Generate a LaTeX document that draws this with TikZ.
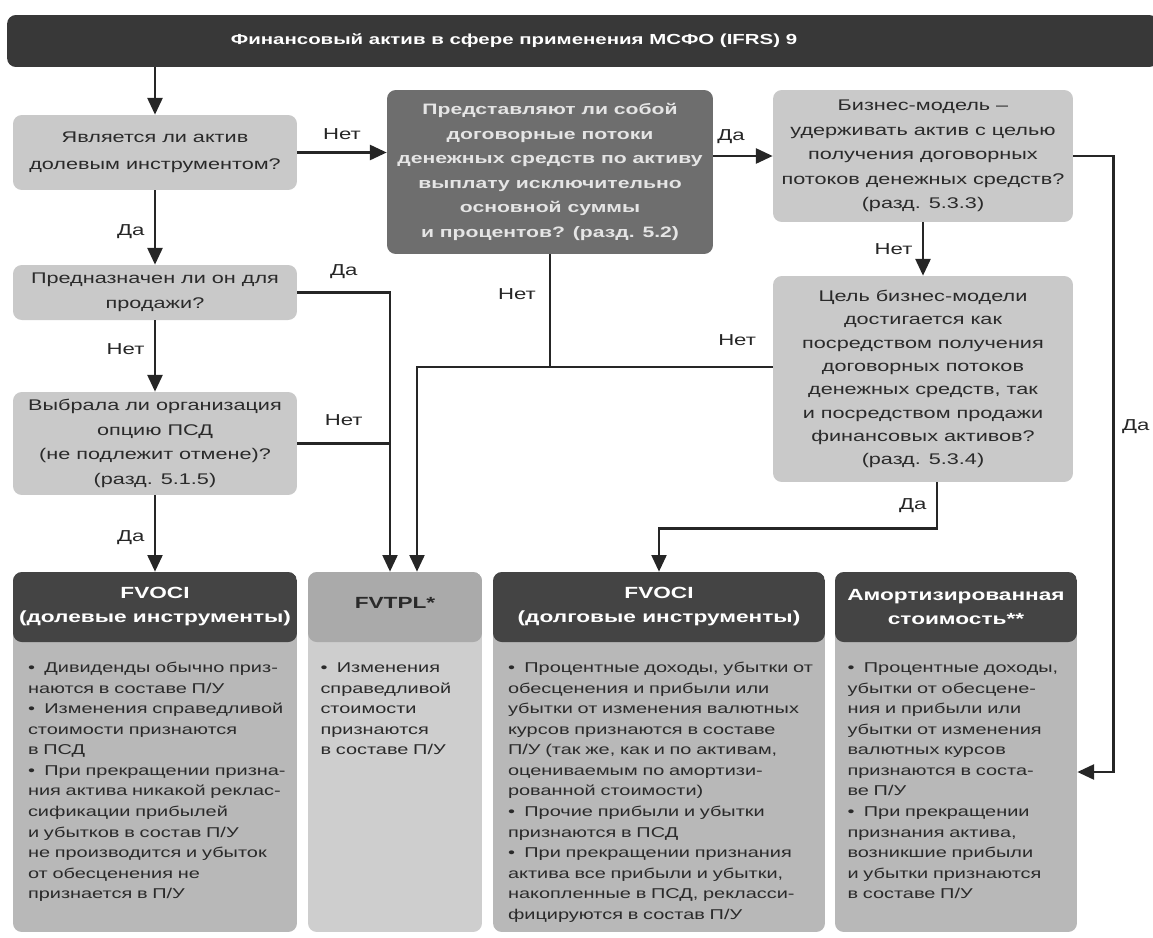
\documentclass[tikz,border=0pt]{standalone}
\usepackage{fontspec}
\setmainfont{Liberation Sans}[FakeStretch=1.4]
\definecolor{bardark}{RGB}{56,56,56}
\definecolor{qlight}{RGB}{201,201,201}
\definecolor{qdark}{RGB}{110,110,110}
\definecolor{hdrdark}{RGB}{68,68,68}
\definecolor{hdrlight}{RGB}{170,170,170}
\definecolor{bodygray}{RGB}{184,184,184}
\definecolor{bodylight}{RGB}{206,206,206}
\definecolor{inkgray}{RGB}{42,42,42}
\usetikzlibrary{arrows.meta,positioning}

% bullet with hanging indent
\newcommand{\bul}{\par\noindent\hangindent=1.15em\hangafter=1\makebox[1.15em][l]{\textbullet}}

\begin{document}
\begin{tikzpicture}[x=0.02cm, y=-0.02cm,
  qbox/.style={fill=qlight, rounded corners=5pt, text=inkgray, align=center,
    font=\fontsize{8.8}{14}\selectfont, inner sep=0pt},
  qdbox/.style={qbox, fill=qdark, text=white!90!black,
    font=\bfseries\fontsize{8.6}{14}\selectfont},
  card/.style args={#1/#2}{rounded corners=5pt, minimum height=7.2cm, inner sep=0pt, fill=#2,
    path picture={\fill[#1] (path picture bounding box.north west)
      rectangle ([yshift=-1.4cm]path picture bounding box.north east);}},
  hdrtxt/.style={text=white, align=center, font=\bfseries\fontsize{9.2}{13.5}\selectfont},
  bodytxt/.style={text=inkgray, align=left, anchor=north west, inner sep=0pt,
    font=\fontsize{8.1}{11.7}\selectfont},
  ln/.style={line width=1.4pt, draw=black!85},
  arr/.style={ln, -{Triangle[width=8.5pt,length=9.5pt]}},
  lbl/.style={text=black!85, font=\fontsize{9}{11}\selectfont}]
  \useasboundingbox (0,0) rectangle (1153,937);

  % top bar
  \node[fill=bardark, rounded corners=5pt, minimum width=23.02cm, minimum height=1.04cm] (ifrsBar) at (582.5,41) {};
  \node[text=white, font=\bfseries\fontsize{8.3}{12}\selectfont] (ifrsTitle) at (514,41) {Финансовый актив в сфере применения МСФО (IFRS) 9};

  % questions
  \node[qbox, minimum width=5.68cm, minimum height=1.5cm, font=\fontsize{8.8}{15.5}\selectfont] (isEquity) at (155,152.5)
    {Является ли актив\\долевым инструментом?};
  \node[qdbox, minimum width=6.52cm, minimum height=3.28cm] (isSPPI) at (550,172)
    {Представляют ли собой\\договорные потоки\\денежных средств по активу\\выплату исключительно\\основной суммы\\и процентов? (разд. 5.2)};
  \node[qbox, minimum width=6cm, minimum height=2.64cm] (holdModel) at (923,156)
    {Бизнес-модель –\\удерживать актив с целью\\получения договорных\\потоков денежных средств?\\(разд. 5.3.3)};
  \node[qbox, minimum width=5.68cm, minimum height=1.1cm] (forTrading) at (155,292.5)
    {Предназначен ли он для\\продажи?};
  \node[qbox, minimum width=5.68cm, minimum height=2.06cm] (ociOption) at (155,443.5)
    {Выбрала ли организация\\опцию ПСД\\(не подлежит отмене)?\\(разд. 5.1.5)};
  \node[qbox, minimum width=6cm, minimum height=4.12cm, font=\fontsize{8.8}{13.3}\selectfont] (bothModel) at (923,379)
    {Цель бизнес-модели\\достигается как\\посредством получения\\договорных потоков\\денежных средств, так\\и посредством продажи\\финансовых активов?\\(разд. 5.3.4)};

  % categories
  \node[card=hdrdark/bodygray, minimum width=5.68cm] (fvociEq) at (155,752) {};
  \node[card=hdrlight/bodylight, minimum width=3.48cm] (fvtpl) at (395,752) {};
  \node[card=hdrdark/bodygray, minimum width=6.64cm] (fvociDebt) at (659,752) {};
  \node[card=hdrdark/bodygray, minimum width=4.84cm] (amortCost) at (956,752) {};

  \node[hdrtxt] (fvociEqH) at ([yshift=-0.7cm]fvociEq.north) {FVOCI\\(долевые инструменты)};
  \node[hdrtxt, text=inkgray] (fvtplH) at ([yshift=-0.62cm]fvtpl.north) {FVTPL*};
  \node[hdrtxt] (fvociDebtH) at ([yshift=-0.7cm]fvociDebt.north) {FVOCI\\(долговые инструменты)};
  \node[hdrtxt] (amortCostH) at ([yshift=-0.7cm]amortCost.north) {Амортизированная\\стоимость**};

  \node[bodytxt, text width=5.4cm] (fvociEqB) at ([xshift=0.3cm,yshift=-1.6cm]fvociEq.north west)
    {\bul Дивиденды обычно приз-\\наются в составе П/У
     \bul Изменения справедливой\\стоимости признаются\\в ПСД
     \bul При прекращении призна-\\ния актива никакой реклас-\\сификации прибылей\\и убытков в состав П/У\\не производится и убыток\\от обесценения не\\признается в П/У};
  \node[bodytxt, text width=3.2cm] (fvtplB) at ([xshift=0.25cm,yshift=-1.6cm]fvtpl.north west)
    {\bul Изменения\\справедливой\\стоимости\\признаются\\в составе П/У};
  \node[bodytxt, text width=6.3cm] (fvociDebtB) at ([xshift=0.3cm,yshift=-1.6cm]fvociDebt.north west)
    {\bul Процентные доходы, убытки от\\обесценения и прибыли или\\убытки от изменения валютных\\курсов признаются в составе\\П/У (так же, как и по активам,\\оцениваемым по амортизи-\\рованной стоимости)
     \bul Прочие прибыли и убытки\\признаются в ПСД
     \bul При прекращении признания\\актива все прибыли и убытки,\\накопленные в ПСД, реклас\-си-\\фицируются в состав П/У};
  \node[bodytxt, text width=4.5cm] (amortCostB) at ([xshift=0.25cm,yshift=-1.6cm]amortCost.north west)
    {\bul Процентные доходы,\\убытки от обесцене-\\ния и прибыли или\\убытки от изменения\\валютных курсов\\признаются в соста-\\ве П/У
     \bul При прекращении\\признания актива,\\возникшие прибыли\\и убытки признаются\\в составе П/У};

  % connectors
  \coordinate (plInA) at ([xshift=-0.1cm]fvtpl.north);
  \coordinate (plInB) at ([xshift=0.44cm]fvtpl.north);
  \coordinate (noJoin) at ([yshift=0.24cm]bothModel.west);
  \coordinate (bothOut) at ([xshift=0.28cm]bothModel.south);
  \coordinate (amortIn) at ([yshift=-0.4cm]amortCost.east);

  \draw[arr] (isEquity |- ifrsBar.south) -- (isEquity);
  \draw[arr] (isEquity.east) -- (isEquity.east -| isSPPI.west) node[lbl, midway, above=3pt] {Нет};
  \draw[arr] (isSPPI.east |- holdModel) -- (holdModel.west) node[lbl, pos=0.3, above=3pt] {Да};
  \draw[arr] (isEquity) -- (forTrading) node[lbl, pos=0.55, left=2pt] {Да};
  \draw[arr] (forTrading.east) -| (plInA) node[lbl, pos=0.25, above=4pt] {Да};
  \draw[arr] (forTrading) -- (ociOption) node[lbl, pos=0.4, left=2pt] {Нет};
  \draw[ln] (ociOption.east) -- (ociOption.east -| plInA) node[lbl, midway, above=6pt] {Нет};
  \draw[arr] (ociOption) -- (fvociEq) node[lbl, pos=0.55, left=2pt] {Да};
  \draw[ln] (isSPPI) -- (isSPPI.south |- noJoin) node[lbl, pos=0.35, left=4pt] {Нет};
  \draw[arr] (noJoin) -| (plInB) node[lbl, pos=0.05, above=8pt] {Нет};
  \draw[arr] (holdModel) -- (bothModel) node[lbl, midway, left=2pt] {Нет};
  \draw[arr] (bothOut) -- ++(0,46) node[lbl, midway, left=2pt] {Да} -| (fvociDebt.north);
  \draw[arr] (holdModel.east) -- ++(40,0) |- (amortIn) node[lbl, pos=0.22, right=1pt] {Да};
\end{tikzpicture}
\end{document}
